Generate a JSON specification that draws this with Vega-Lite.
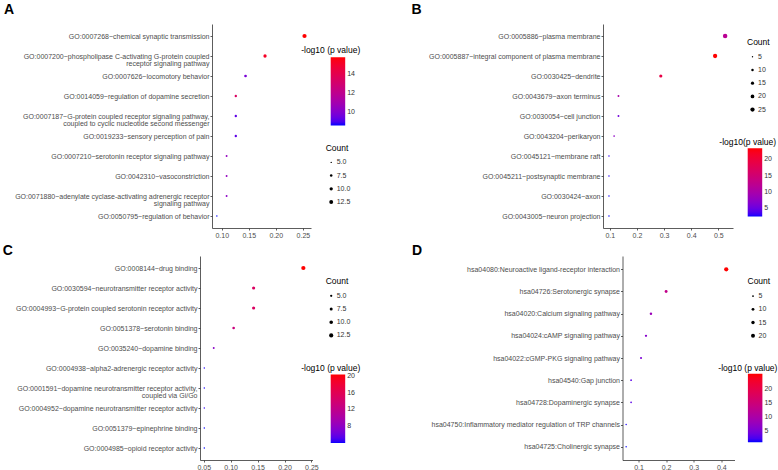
{
  "$schema": "https://vega.github.io/schema/vega-lite/v6.json",
  "background": "white",
  "padding": {"left": 2, "top": 3, "right": 0, "bottom": 0},
  "concat": [
    {
      "hconcat": [
        {
          "width": 111, "height": 204,
          "title": {"text": "A", "anchor": "start", "frame": "group", "dx": -196, "offset": -4, "baseline": "alphabetic", "fontSize": 14, "fontWeight": "bold", "color": "black"},
          "data": {"values": [
            {"term": "GO:0007268~chemical synaptic transmission", "ratio": 0.253, "count": 14, "logp": 15.8},
            {"term": "GO:0007200~phospholipase C-activating G-protein coupled receptor signaling pathway", "ratio": 0.180, "count": 10, "logp": 15.2},
            {"term": "GO:0007626~locomotory behavior", "ratio": 0.144, "count": 8, "logp": 9.8},
            {"term": "GO:0014059~regulation of dopamine secretion", "ratio": 0.126, "count": 7, "logp": 13.5},
            {"term": "GO:0007187~G-protein coupled receptor signaling pathway, coupled to cyclic nucleotide second messenger", "ratio": 0.126, "count": 7, "logp": 9.3},
            {"term": "GO:0019233~sensory perception of pain", "ratio": 0.126, "count": 7, "logp": 9.3},
            {"term": "GO:0007210~serotonin receptor signaling pathway", "ratio": 0.109, "count": 6, "logp": 10.5},
            {"term": "GO:0042310~vasoconstriction", "ratio": 0.109, "count": 6, "logp": 10.5},
            {"term": "GO:0071880~adenylate cyclase-activating adrenergic receptor signaling pathway", "ratio": 0.109, "count": 6, "logp": 10.3},
            {"term": "GO:0050795~regulation of behavior", "ratio": 0.091, "count": 5, "logp": 8.6}
          ]},
          "mark": {"type": "circle", "opacity": 1},
          "encoding": {
            "y": {"field": "term", "type": "nominal", "sort": null, "scale": {"padding": 0.6}, "axis": {"title": null, "offset": -12, "labelExpr": "length(datum.label) > 60 ? split(replace(datum.label, regexp('^(.{1,60}) (.+)$'), '$1|$2'), '|') : datum.label"}},
            "x": {"field": "ratio", "type": "quantitative", "scale": {"domain": [0.082, 0.265], "range": [12, 111]}, "axis": {"title": null, "values": [0.1, 0.15, 0.2, 0.25], "format": ".2f"}},
            "color": {"field": "logp", "type": "quantitative", "title": "-log10 (p value)", "scale": {"domain": [8.6, 15.8], "range": ["blue", "red"], "interpolate": "lab"},
              "legend": {"type": "gradient", "orient": "none", "legendX": 100.7, "legendY": 22.2, "titlePadding": 2.5, "values": [10, 12, 14], "direction": "vertical", "titleAnchor": "start", "titleAlign": "center"}},
            "size": {"field": "count", "type": "quantitative", "title": "Count", "scale": {"domain": [5, 14], "range": [2, 18]},
              "legend": {"orient": "none", "legendX": 125.7, "legendY": 119.7, "values": [5, 7.5, 10, 12.5], "format": ".1f", "titlePadding": 6.7, "symbolFillColor": "black"}}
          }
        },
        {
          "width": 130, "height": 204,
          "title": {"text": "B", "anchor": "start", "frame": "group", "dx": -191.6, "offset": -4, "baseline": "alphabetic", "fontSize": 14, "fontWeight": "bold", "color": "black"},
          "data": {"values": [
            {"term": "GO:0005886~plasma membrane", "ratio": 0.525, "count": 27, "logp": 12},
            {"term": "GO:0005887~integral component of plasma membrane", "ratio": 0.488, "count": 25, "logp": 23.4},
            {"term": "GO:0030425~dendrite", "ratio": 0.288, "count": 15, "logp": 19},
            {"term": "GO:0043679~axon terminus", "ratio": 0.132, "count": 7, "logp": 10},
            {"term": "GO:0030054~cell junction", "ratio": 0.132, "count": 7, "logp": 5.5},
            {"term": "GO:0043204~perikaryon", "ratio": 0.116, "count": 6, "logp": 7.5},
            {"term": "GO:0045121~membrane raft", "ratio": 0.097, "count": 5, "logp": 3},
            {"term": "GO:0045211~postsynaptic membrane", "ratio": 0.097, "count": 5, "logp": 2.8},
            {"term": "GO:0030424~axon", "ratio": 0.097, "count": 5, "logp": 2.6},
            {"term": "GO:0043005~neuron projection", "ratio": 0.097, "count": 5, "logp": 2.5}
          ]},
          "mark": {"type": "circle", "opacity": 1},
          "encoding": {
            "y": {"field": "term", "type": "nominal", "sort": null, "scale": {"padding": 0.6}, "axis": {"title": null}},
            "x": {"field": "ratio", "type": "quantitative", "scale": {"domain": [0.075, 0.554]}, "axis": {"title": null, "values": [0.1, 0.2, 0.3, 0.4, 0.5], "format": ".1f"}},
            "color": {"field": "logp", "type": "quantitative", "title": "-log10(p value)", "scale": {"domain": [2.5, 23.4], "range": ["blue", "red"], "interpolate": "lab"},
              "legend": {"type": "gradient", "orient": "none", "legendX": 116.7, "legendY": 114.2, "titlePadding": 1.5, "values": [5, 10, 15, 20], "direction": "vertical", "titleAnchor": "start", "titleAlign": "center"}},
            "size": {"field": "count", "type": "quantitative", "title": "Count", "scale": {"domain": [5, 27], "range": [2, 20]},
              "legend": {"orient": "none", "legendX": 144, "legendY": 14.1, "values": [5, 10, 15, 20, 25], "format": "d", "titlePadding": 6.7, "symbolFillColor": "black"}}
          }
        }
      ],
      "bounds": "flush",
      "spacing": 292,
      "resolve": {"scale": {"color": "independent", "size": "independent"}, "legend": {"color": "independent", "size": "independent"}}
    },
    {
      "hconcat": [
        {
          "width": 112.5, "height": 204,
          "title": {"text": "C", "anchor": "start", "frame": "group", "dx": -197.3, "offset": -13, "baseline": "alphabetic", "fontSize": 14, "fontWeight": "bold", "color": "black"},
          "data": {"values": [
            {"term": "GO:0008144~drug binding", "ratio": 0.235, "count": 13, "logp": 20.4},
            {"term": "GO:0030594~neurotransmitter receptor activity", "ratio": 0.1426, "count": 8, "logp": 15},
            {"term": "GO:0004993~G-protein coupled serotonin receptor activity", "ratio": 0.1426, "count": 8, "logp": 15},
            {"term": "GO:0051378~serotonin binding", "ratio": 0.1055, "count": 6, "logp": 13},
            {"term": "GO:0035240~dopamine binding", "ratio": 0.0685, "count": 4, "logp": 7.5},
            {"term": "GO:0004938~alpha2-adrenergic receptor activity", "ratio": 0.051, "count": 3, "logp": 4},
            {"term": "GO:0001591~dopamine neurotransmitter receptor activity, coupled via Gi/Go", "ratio": 0.051, "count": 3, "logp": 3.9},
            {"term": "GO:0004952~dopamine neurotransmitter receptor activity", "ratio": 0.051, "count": 3, "logp": 4.2},
            {"term": "GO:0051379~epinephrine binding", "ratio": 0.051, "count": 3, "logp": 3.8},
            {"term": "GO:0004985~opioid receptor activity", "ratio": 0.051, "count": 3, "logp": 3.76}
          ]},
          "mark": {"type": "circle", "opacity": 1},
          "encoding": {
            "y": {"field": "term", "type": "nominal", "sort": null, "scale": {"padding": 0.6}, "axis": {"title": null, "labelExpr": "length(datum.label) > 60 ? split(replace(datum.label, regexp('^(.{1,60}) (.+)$'), '$1|$2'), '|') : datum.label"}},
            "x": {"field": "ratio", "type": "quantitative", "scale": {"domain": [0.043, 0.252]}, "axis": {"title": null, "values": [0.05, 0.1, 0.15, 0.2, 0.25], "format": ".2f"}},
            "color": {"field": "logp", "type": "quantitative", "title": "-log10 (p value)", "scale": {"domain": [3.76, 20.4], "range": ["blue", "red"], "interpolate": "lab"},
              "legend": {"type": "gradient", "orient": "none", "legendX": 100.7, "legendY": 107.8, "titlePadding": 2.3, "values": [8, 12, 16, 20], "direction": "vertical", "titleAnchor": "start", "titleAlign": "center"}},
            "size": {"field": "count", "type": "quantitative", "title": "Count", "scale": {"domain": [3, 13], "range": [2, 18]},
              "legend": {"orient": "none", "legendX": 125.7, "legendY": 21.1, "values": [5, 7.5, 10, 12.5], "format": ".1f", "titlePadding": 6.7, "symbolFillColor": "black"}}
          }
        },
        {
          "width": 112, "height": 204,
          "title": {"text": "D", "anchor": "start", "frame": "group", "dx": -210.6, "offset": -13, "baseline": "alphabetic", "fontSize": 14, "fontWeight": "bold", "color": "black"},
          "data": {"values": [
            {"term": "hsa04080:Neuroactive ligand-receptor interaction", "ratio": 0.418, "count": 23, "logp": 25.6},
            {"term": "hsa04726:Serotonergic synapse", "ratio": 0.2, "count": 11, "logp": 13},
            {"term": "hsa04020:Calcium signaling pathway", "ratio": 0.145, "count": 8, "logp": 8},
            {"term": "hsa04024:cAMP signaling pathway", "ratio": 0.127, "count": 7, "logp": 6},
            {"term": "hsa04022:cGMP-PKG signaling pathway", "ratio": 0.109, "count": 6, "logp": 5},
            {"term": "hsa04540:Gap junction", "ratio": 0.073, "count": 4, "logp": 3},
            {"term": "hsa04728:Dopaminergic synapse", "ratio": 0.073, "count": 4, "logp": 3},
            {"term": "hsa04750:Inflammatory mediator regulation of TRP channels", "ratio": 0.055, "count": 3, "logp": 1},
            {"term": "hsa04725:Cholinergic synapse", "ratio": 0.055, "count": 3, "logp": 0.76}
          ]},
          "mark": {"type": "circle", "opacity": 1},
          "encoding": {
            "y": {"field": "term", "type": "nominal", "sort": null, "scale": {"padding": 0.6}, "axis": {"title": null}},
            "x": {"field": "ratio", "type": "quantitative", "scale": {"domain": [0.0418, 0.448]}, "axis": {"title": null, "values": [0.1, 0.2, 0.3, 0.4], "format": ".1f"}},
            "color": {"field": "logp", "type": "quantitative", "title": "-log10 (p value)", "scale": {"domain": [0.76, 25.6], "range": ["blue", "red"], "interpolate": "lab"},
              "legend": {"type": "gradient", "orient": "none", "legendX": 95.4, "legendY": 107.9, "titlePadding": 1.4, "values": [5, 10, 15, 20], "direction": "vertical", "titleAnchor": "start", "titleAlign": "center"}},
            "size": {"field": "count", "type": "quantitative", "title": "Count", "scale": {"domain": [3, 23], "range": [2, 18]},
              "legend": {"orient": "none", "legendX": 125, "legendY": 21.4, "values": [5, 10, 15, 20], "format": "d", "titlePadding": 6.7, "symbolFillColor": "black"}}
          }
        }
      ],
      "bounds": "flush",
      "spacing": 309.5,
      "resolve": {"scale": {"color": "independent", "size": "independent"}, "legend": {"color": "independent", "size": "independent"}}
    }
  ],
  "columns": 1,
  "spacing": 5,
  "resolve": {"scale": {"color": "independent", "size": "independent"}, "legend": {"color": "independent", "size": "independent"}},
  "config": {
    "font": "Liberation Sans",
    "view": {"stroke": null},
    "axis": {"grid": false, "domainColor": "#333333", "domainWidth": 0.8, "tickColor": "#333333", "tickWidth": 0.8, "tickSize": 2, "labelFontSize": 7, "labelColor": "#4d4d4d", "labelFont": "Liberation Sans"},
    "axisY": {"labelPadding": 1, "labelLimit": 0, "labelLineHeight": 7.7},
    "axisX": {"labelPadding": 1.5},
    "legend": {"titleFontSize": 8.5, "titleFontWeight": "normal", "titleColor": "black", "titleFont": "Liberation Sans", "labelFont": "Liberation Sans", "labelFontSize": 7, "labelColor": "#333333", "gradientLength": 68.4, "gradientThickness": 14.5, "gradientStrokeWidth": 0, "labelOffset": 2, "labelOverlap": false, "symbolType": "circle", "symbolStrokeWidth": 0, "symbolFillColor": "black", "symbolBaseFillColor": "black", "symbolOffset": 2, "rowPadding": 5.2}
  }
}
